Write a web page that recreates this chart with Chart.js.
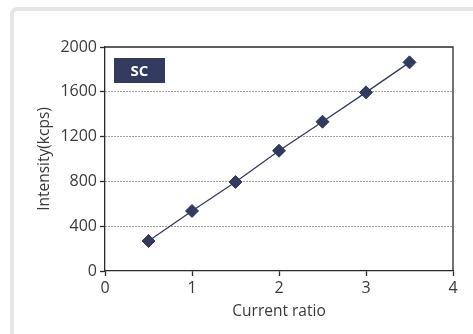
<!DOCTYPE html>
<html>
<head>
<meta charset="utf-8">
<script src="https://cdn.jsdelivr.net/npm/chart.js@4.4.1/dist/chart.umd.min.js"></script>
<style>
  html, body { margin: 0; padding: 0; background: #ffffff; }
  #wrap { position: relative; width: 473px; height: 334px; overflow: hidden; }
  #frame { position: absolute; left: 10px; top: 7px; width: 500px; height: 400px;
           border: 4px solid #e5e6ea; border-radius: 7px; box-sizing: border-box; }
  canvas { position: absolute; left: 0; top: 0; }
</style>
</head>
<body>
<div id="wrap">
  <div id="frame"></div>
  <canvas id="c" width="473" height="334"></canvas>
</div>
<script>
const currentRatio = [0.5, 1, 1.5, 2, 2.5, 3, 3.5];
const intensity = [268, 536, 795, 1074, 1333, 1595, 1863];
const xTicks = [0, 1, 2, 3, 4];
const yTicks = [0, 400, 800, 1200, 1600, 2000];
const labelText = 'SC';
const xTitle = 'Current ratio';
const yTitle = 'Intensity(kcps)';

const FONT = '"Open Sans", "Noto Sans", sans-serif';
const AXIS = '#2a2a2a';
const TEXT = '#3a3a3a';
const NAVY = '#333a5f';

const framePlugin = {
  id: 'framePlugin',
  afterDraw(chart) {
    const { ctx, chartArea: a } = chart;
    ctx.save();
    ctx.strokeStyle = AXIS;
    ctx.lineWidth = 1.3;
    ctx.beginPath();
    ctx.moveTo(a.left, a.top);
    ctx.lineTo(a.right, a.top);
    ctx.lineTo(a.right, a.bottom);
    ctx.stroke();
    // SC label box
    const bx = a.left + 9, by = a.top + 11, bw = 51, bh = 25;
    ctx.fillStyle = NAVY;
    ctx.fillRect(bx, by, bw, bh);
    ctx.fillStyle = '#ffffff';
    ctx.font = 'bold 15px ' + FONT;
    ctx.textAlign = 'center';
    ctx.textBaseline = 'middle';
    ctx.fillText(labelText, bx + bw / 2, by + bh / 2 + 1);
    ctx.restore();
  }
};

new Chart(document.getElementById('c'), {
  type: 'scatter',
  data: {
    datasets: [{
      data: currentRatio.map((x, i) => ({ x, y: intensity[i] })),
      showLine: true,
      borderColor: NAVY,
      borderWidth: 1.3,
      backgroundColor: NAVY,
      pointStyle: 'rectRot',
      pointRadius: 6.5,
      pointBorderWidth: 1,
      pointBorderColor: NAVY,
      pointBackgroundColor: NAVY
    }]
  },
  options: {
    responsive: false,
    animation: false,
    layout: { padding: { left: 35, top: 47, right: 20, bottom: 13 } },
    plugins: { legend: { display: false }, tooltip: { enabled: false } },
    scales: {
      x: {
        type: 'linear', min: 0, max: 4,
        afterBuildTicks(s) { s.ticks = xTicks.map(v => ({ value: v })); },
        afterFit(s) { s.height = 50; },
        grid: { drawOnChartArea: false, drawTicks: true, tickLength: 5, tickColor: AXIS, tickWidth: 1.3 },
        border: { display: true, color: AXIS, width: 1.3 },
        ticks: { color: TEXT, font: { family: FONT, size: 16 }, padding: 3, callback: v => String(v) },
        title: { display: true, text: xTitle, color: TEXT, font: { family: FONT, size: 15.5 }, padding: { top: 0, bottom: 0 } }
      },
      y: {
        type: 'linear', min: 0, max: 2000,
        afterBuildTicks(s) { s.ticks = yTicks.map(v => ({ value: v })); },
        afterFit(s) { s.width = 70; },
        grid: {
          color: c => (c.tick && (c.tick.value === 0 || c.tick.value === 2000)) ? 'rgba(0,0,0,0)' : '#808080',
          lineWidth: 1,
          drawTicks: true, tickLength: 5, tickColor: AXIS, tickWidth: 1.3
        },
        border: { display: true, color: AXIS, width: 1.3, dash: [1.5, 1.5] },
        ticks: { color: TEXT, font: { family: FONT, size: 16 }, padding: 3, callback: v => String(v) },
        title: { display: true, text: yTitle, color: TEXT, font: { family: FONT, size: 15.5 }, padding: { top: 0, bottom: 0 } }
      }
    }
  },
  plugins: [framePlugin]
});
</script>
</body>
</html>
